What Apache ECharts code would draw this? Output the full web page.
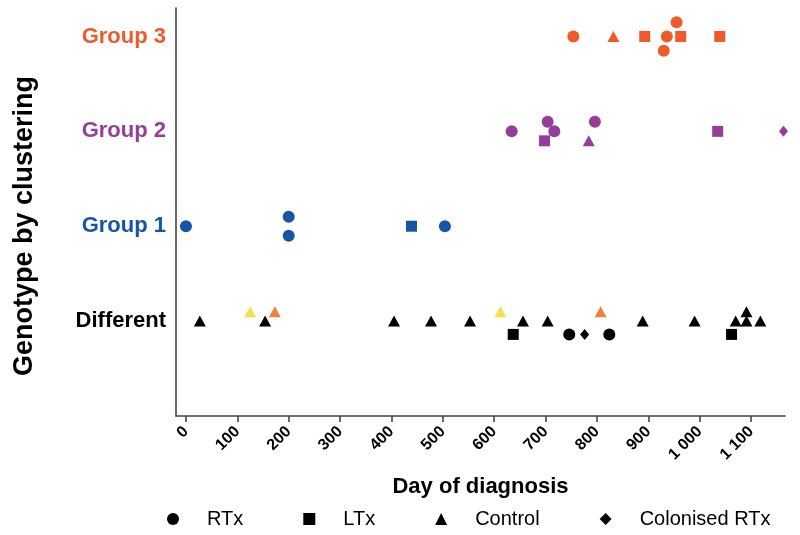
<!DOCTYPE html>
<html>
<head>
<meta charset="utf-8">
<script src="https://cdn.jsdelivr.net/npm/echarts@6/dist/echarts.min.js"></script>
<style>html,body{margin:0;padding:0;background:#fff}#c{width:800px;height:535px}</style>
</head>
<body>
<div id="c"></div>
<script>
// Categories (y levels): 1 = Different, 2 = Group 1, 3 = Group 2, 4 = Group 3
const groupLabels = ['Different', 'Group 1', 'Group 2', 'Group 3'];
const groupColorsHex = { d: '#000000', g1: '#1655A6', g2: '#953D97', g3: '#EF5A2B', y: '#F6E04A', o: '#F0823A' };
const xTicks = [0, 100, 200, 300, 400, 500, 600, 700, 800, 900, 1000, 1100];
const legendNames = ['RTx', 'LTx', 'Control', 'Colonised RTx'];

// [day of diagnosis, group level (with vertical jitter), colour key]
const rtxPoints = [
  [754, 4, 'g3'], [936, 4, 'g3'], [955, 4.15, 'g3'], [930, 3.85, 'g3'],
  [634, 3, 'g2'], [704, 3.1, 'g2'], [717, 3, 'g2'], [796, 3.1, 'g2'],
  [0, 2, 'g1'], [200, 2.1, 'g1'], [200, 1.9, 'g1'], [504, 2, 'g1'],
  [746, 0.86, 'd'], [824, 0.86, 'd']
];
const ltxPoints = [
  [893, 4, 'g3'], [963, 4, 'g3'], [1039, 4, 'g3'],
  [698, 2.9, 'g2'], [1035, 3, 'g2'],
  [439, 2, 'g1'],
  [637, 0.86, 'd'], [1062, 0.86, 'd']
];
const controlPoints = [
  [832, 4, 'g3'],
  [784, 2.9, 'g2'],
  [27, 1, 'd'], [125, 1.1, 'y'], [154, 1, 'd'], [173, 1.1, 'o'], [405, 1, 'd'],
  [477, 1, 'd'], [553, 1, 'd'], [612, 1.1, 'y'], [656, 1, 'd'], [704, 1, 'd'],
  [807, 1.1, 'o'], [889, 1, 'd'], [990, 1, 'd'], [1070, 1, 'd'], [1091, 1, 'd'],
  [1091, 1.1, 'd'], [1118, 1, 'd']
];
const colonisedPoints = [
  [1163, 3, 'g2'],
  [776, 0.86, 'd']
];

const FONT = 'Arial, "Liberation Sans", Helvetica, sans-serif';

function toData(arr) {
  return arr.map(p => ({ value: [p[0], p[1]], itemStyle: { color: groupColorsHex[p[2]], opacity: 1 } }));
}

const labelColorByLevel = { 1: 'd', 2: 'g1', 3: 'g2', 4: 'g3' };
const richLabel = c => ({ color: c, fontFamily: FONT, fontSize: 22, fontWeight: 'bold' });

const chart = echarts.init(document.getElementById('c'), null, { renderer: 'canvas' });
chart.setOption({
  animation: false,
  backgroundColor: '#fff',
  grid: { left: 176, right: 15, top: 8, bottom: 119, containLabel: false },
  graphic: [{
    type: 'text',
    x: 25,
    y: 226,
    rotation: Math.PI / 2,
    style: {
      text: 'Genotype by clustering',
      fontFamily: FONT,
      fontSize: 27,
      fontWeight: 'bold',
      fill: '#000',
      align: 'center',
      verticalAlign: 'middle'
    }
  }],
  xAxis: {
    type: 'value',
    min: -19.4,
    max: 1166,
    name: 'Day of diagnosis',
    nameLocation: 'middle',
    nameGap: 60,
    nameTextStyle: { fontFamily: FONT, fontSize: 22, fontWeight: 'bold', color: '#000' },
    splitLine: { show: false },
    axisLine: { show: true, onZero: false, lineStyle: { color: '#444', width: 1.6 } },
    axisTick: { show: true, length: 6, lineStyle: { color: '#444', width: 1.6 }, customValues: xTicks },
    axisLabel: {
      customValues: xTicks,
      rotate: 45,
      margin: 13,
      fontFamily: FONT,
      fontSize: 16,
      fontWeight: 'bold',
      color: '#000',
      formatter: v => v >= 1000 ? String(v).replace(/(\d)(\d{3})$/, '$1 $2') : String(v)
    }
  },
  yAxis: {
    type: 'value',
    min: 0,
    max: 4.3,
    interval: 1,
    splitLine: { show: false },
    axisLine: { show: true, onZero: false, lineStyle: { color: '#444', width: 1.6 } },
    axisTick: { show: false },
    axisLabel: {
      showMaxLabel: false,
      margin: 10,
      formatter: v => {
        if (v >= 1 && v <= 4 && Math.abs(v - Math.round(v)) < 1e-6) {
          return '{' + labelColorByLevel[v] + '|' + groupLabels[v - 1] + '}';
        }
        return '';
      },
      rich: {
        d: richLabel('#000'),
        g1: richLabel(groupColorsHex.g1),
        g2: richLabel(groupColorsHex.g2),
        g3: richLabel(groupColorsHex.g3)
      }
    }
  },
  legend: {
    bottom: 1,
    left: 162,
    itemGap: 60,
    itemWidth: 12,
    itemHeight: 12,
    textStyle: { fontFamily: FONT, fontSize: 20, color: '#000', padding: [0, 0, 0, 23] },
    data: legendNames.map(n => ({ name: n, itemStyle: { color: '#000', opacity: 1 } }))
  },
  series: [
    { name: legendNames[0], type: 'scatter', symbol: 'circle', symbolSize: 12, itemStyle: { color: '#000', opacity: 1 }, data: toData(rtxPoints) },
    { name: legendNames[1], type: 'scatter', symbol: 'rect', symbolSize: 11, itemStyle: { color: '#000', opacity: 1 }, data: toData(ltxPoints) },
    { name: legendNames[2], type: 'scatter', symbol: 'triangle', symbolSize: [12, 11], itemStyle: { color: '#000', opacity: 1 }, data: toData(controlPoints) },
    { name: legendNames[3], type: 'scatter', symbol: 'diamond', symbolSize: [9, 11], itemStyle: { color: '#000', opacity: 1 }, data: toData(colonisedPoints) }
  ]
});
</script>
</body>
</html>
